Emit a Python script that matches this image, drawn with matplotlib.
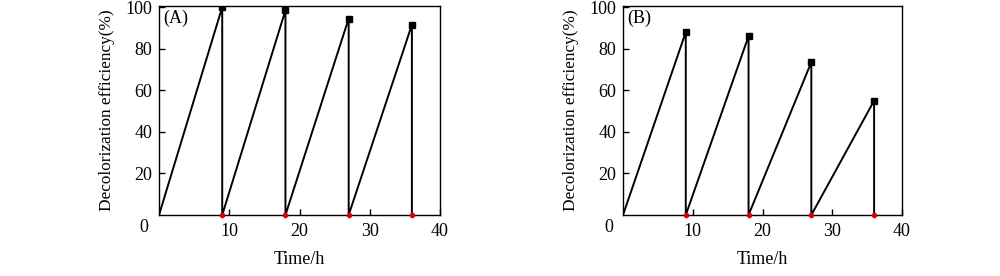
import matplotlib
matplotlib.use("Agg")
import matplotlib.pyplot as plt

plt.rcParams['font.family'] = ['Liberation Serif', 'DejaVu Serif']
plt.rcParams['font.size'] = 13

# cycle times (h) and peak decolorization (%) per cycle
cycle_end = [9, 18, 27, 36]
peaks_a = [100, 98.5, 94.5, 91.5]
peaks_b = [88, 86, 73.5, 55]
x_ticks = [10, 20, 30, 40]
y_ticks = [20, 40, 60, 80, 100]


def sawtooth(ends, peaks):
    xs, ys = [0], [0]
    for t, p in zip(ends, peaks):
        xs += [t, t]
        ys += [p, 0]
    return xs, ys


def draw_panel(ax, peaks, tag):
    xs, ys = sawtooth(cycle_end, peaks)
    ax.plot(xs, ys, color='black', lw=1.4, zorder=2)
    ax.plot(cycle_end, peaks, 's', color='black', ms=4.5, zorder=3)
    ax.plot(cycle_end, [0] * len(cycle_end), 'o', color='#e00000', ms=3, zorder=3, clip_on=False)

    ax.set_xlim(0, 40)
    ax.set_ylim(0, 100.5)
    ax.set_xticks(x_ticks)
    ax.set_yticks(y_ticks)
    ax.tick_params(direction='in', length=4, width=1)
    ax.tick_params(axis='x', pad=6)
    ax.tick_params(axis='y', pad=5)
    for s in ax.spines.values():
        s.set_linewidth(1)
    ax.text(-2.1, -5.8, '0', ha='center', va='center', clip_on=False)
    ax.text(0.6, 94.5, tag, ha='left', va='center')
    ax.set_xlabel("Time/h", labelpad=8)
    ax.set_ylabel("Decolorization efficiency(%)", fontsize=12.4, labelpad=7)


fig = plt.figure(figsize=(10, 2.76), dpi=100)
ax_a = fig.add_axes([0.159, 0.221, 0.281, 0.757])
ax_b = fig.add_axes([0.623, 0.221, 0.279, 0.757])

draw_panel(ax_a, peaks_a, "(A)")
draw_panel(ax_b, peaks_b, "(B)")

fig.savefig("out.png", dpi=100)
